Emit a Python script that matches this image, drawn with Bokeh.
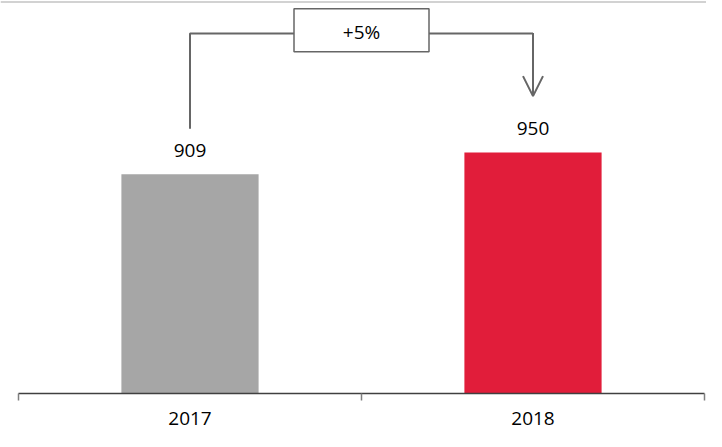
from bokeh.plotting import figure
from bokeh.models import Range1d, FixedTicker, Span, Arrow, OpenHead, ColumnDataSource
from bokeh.core.properties import value
from bokeh.embed import file_html
from bokeh.resources import INLINE

# ---- data ----
categories = ["2017", "2018"]
values = [909, 950]
bar_colors = ["#A6A6A6", "#E11D3A"]
baseline = 500

# derived
xs = [i + 0.5 for i in range(len(categories))]
pct = (values[1] - values[0]) / values[0]
pct_label = f"+{round(pct * 100)}%"

LINE = "#666666"
FONT = "Open Sans"

p = figure(width=706, height=431,
           x_range=Range1d(-18 / 343, 2 + 2 / 343),
           y_range=Range1d(baseline, 1231.6),
           output_backend="svg", toolbar_location=None,
           y_axis_location=None,
           min_border_left=0, min_border_right=0,
           min_border_top=1, min_border_bottom=38)
p.grid.visible = False
p.outline_line_color = None
p.background_fill_color = "white"
p.border_fill_color = "white"

src = ColumnDataSource(dict(x=xs, top=values, color=bar_colors,
                            label=[str(v) for v in values]))
p.vbar(x="x", top="top", bottom=baseline, width=0.4, fill_color="color",
       line_color=None, source=src)
p.text(x="x", y="top", text="label", source=src, y_offset=-24,
       text_align="center", text_baseline="middle",
       text_font=value(FONT), text_font_size="19px", text_color="#000000")

# x axis
ax = p.xaxis[0]
ax.bounds = (0, len(categories))
ax.ticker = FixedTicker(ticks=xs, minor_ticks=list(range(len(categories) + 1)))
ax.major_label_overrides = {x: c for x, c in zip(xs, categories)}
ax.major_tick_line_color = None
ax.major_tick_in = 0
ax.major_tick_out = 7
ax.minor_tick_in = 0
ax.minor_tick_out = 7
ax.minor_tick_line_color = "#7F7F7F"
ax.minor_tick_line_width = 1.5
ax.axis_line_color = "#404040"
ax.axis_line_width = 1.5
ax.major_label_text_font = FONT
ax.major_label_text_font_size = "19px"
ax.major_label_text_color = "#000000"
ax.major_label_standoff = 11

# top border line
p.add_layout(Span(location=1231.6, dimension="width", line_color="#A6A6A6", line_width=2))

# change annotation
bracket_y = max(values) + 222
left_start = values[0] + 85
arrow_end = values[1] + 105
box_x = sum(xs) / len(xs)

p.line(x=[xs[0], xs[0], box_x], y=[left_start, bracket_y, bracket_y],
       line_color=LINE, line_width=2)
p.line(x=[box_x, xs[1]], y=[bracket_y, bracket_y], line_color=LINE, line_width=2)
p.add_layout(Arrow(end=OpenHead(size=20, line_color=LINE, line_width=2),
                   x_start=xs[1], y_start=bracket_y + 1, x_end=xs[1], y_end=arrow_end,
                   line_color=LINE, line_width=2))
p.rect(x=[box_x], y=[bracket_y + 6], width=135, height=43,
       width_units="screen", height_units="screen",
       fill_color="white", line_color=LINE, line_width=1.5)
p.text(x=[box_x], y=[bracket_y + 3], text=[pct_label],
       text_align="center", text_baseline="middle",
       text_font=value(FONT), text_font_size="19px", text_color="#000000")

open("out.html", "w").write(file_html(p, INLINE))
